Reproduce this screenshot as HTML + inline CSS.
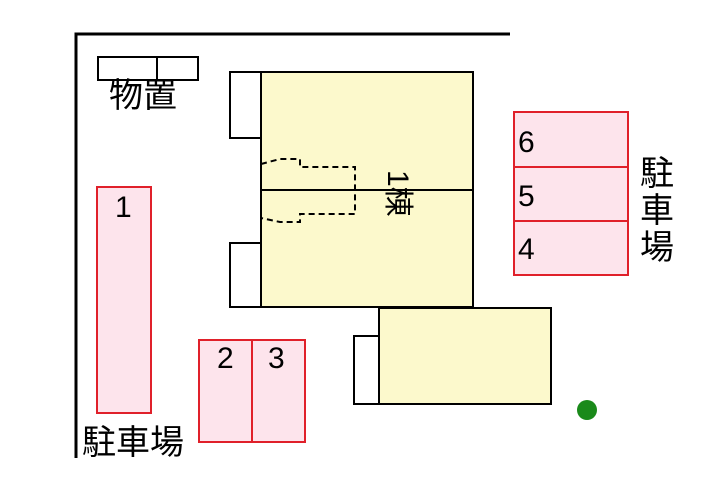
<!DOCTYPE html>
<html><head><meta charset="utf-8"><style>body{margin:0;background:#fff}svg{display:block}</style></head><body>
<svg width="720" height="480" xmlns="http://www.w3.org/2000/svg" font-family="Liberation Sans, Noto Sans CJK JP, sans-serif">
<rect width="720" height="480" fill="#fff"/>
<path d="M76 458V34H510" fill="none" stroke="#000" stroke-width="3"/>
<rect x="98" y="57" width="100" height="23" fill="#fff" stroke="#000" stroke-width="2"/>
<line x1="157" y1="57" x2="157" y2="80" stroke="#000" stroke-width="2"/>
<text x="109" y="107" font-size="34">物置</text>
<rect x="261" y="72" width="212" height="235" fill="#fcf9cc" stroke="#000" stroke-width="2"/>
<line x1="261" y1="190" x2="473" y2="190" stroke="#000" stroke-width="2"/>
<rect x="230" y="72" width="31" height="66" fill="#fff" stroke="#000" stroke-width="2"/>
<rect x="230" y="243" width="31" height="64" fill="#fff" stroke="#000" stroke-width="2"/>
<path d="M261 164L280 159H300V167H355V214H300V222H280L261 218" fill="none" stroke="#000" stroke-width="2" stroke-dasharray="6,4"/>
<text x="0" y="0" font-size="30" transform="translate(388,170) rotate(90)">1棟</text>
<rect x="379" y="308" width="172" height="96" fill="#fcf9cc" stroke="#000" stroke-width="2"/>
<rect x="354" y="336" width="25" height="68" fill="#fff" stroke="#000" stroke-width="2"/>
<g fill="#fde4ec" stroke="#e0202a" stroke-width="2">
<rect x="97" y="187" width="54" height="226"/>
<rect x="199" y="340" width="53" height="102"/>
<rect x="252" y="340" width="53" height="102"/>
<rect x="514" y="112" width="114" height="55"/>
<rect x="514" y="167" width="114" height="54"/>
<rect x="514" y="221" width="114" height="54"/>
</g>
<g font-size="30" fill="#000">
<text x="115" y="217">1</text>
<text x="217" y="368">2</text>
<text x="268" y="368">3</text>
<text x="518" y="152">6</text>
<text x="518" y="206">5</text>
<text x="518" y="259">4</text>
<text x="640" y="185" font-size="34">駐</text>
<text x="640" y="222" font-size="34">車</text>
<text x="640" y="259" font-size="34">場</text>
<text x="82" y="454" font-size="34">駐車場</text>
</g>
<circle cx="587" cy="410" r="10" fill="#1a8a1a"/>
</svg>
</body></html>
